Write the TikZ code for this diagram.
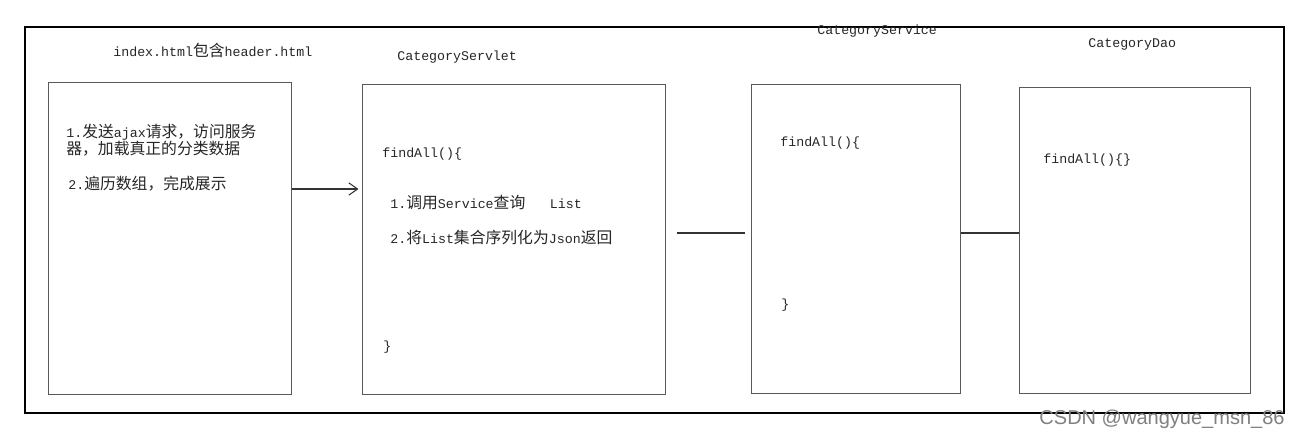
\documentclass[tikz,border=0pt]{standalone}
\usepackage{fontspec}
\setmainfont{Liberation Mono}[Scale=0.84]
\newfontfamily\cjk{Noto Sans CJK SC}
\newfontfamily\wmfont{Liberation Sans}
\usetikzlibrary{arrows.meta}

\tikzset{
	codebox/.style={draw=black!65, line width=0.7pt, anchor=north west, inner sep=0pt},
	txt/.style={anchor=west, inner sep=0pt, font=\fontsize{9}{10}\selectfont, text=black!85},
	link/.style={line width=0.6pt, draw=black!80},
}

\begin{document}
\begin{tikzpicture}[x=0.02cm, y=-0.02cm, >={Straight Barb[length=5pt,width=7pt]}]
\useasboundingbox (0,0) rectangle (1300,440);

% Frame
\draw[line width=0.6pt] (25,27) rectangle (1284,413);

% Boxes
\foreach \name/\x/\y/\w/\h in {page/48/82/243/312, servlet/362/84/303/310, service/751/84/209/309, dao/1019/87/231/306}
{
	\node[codebox, minimum width=\w*0.02cm, minimum height=\h*0.02cm]
		(\name) at (\x,\y) {};
}

% Titles
\node[txt] (page-title) at (113,50) {index.html{\cjk 包含}header.html};
\node[txt] (servlet-title) at (397,57) {CategoryServlet};
\node[txt] (service-title) at (817,31) {CategoryService};
\node[txt] (dao-title) at (1088,44) {CategoryDao};

% Page text
\node[txt] (page-1a) at (66,132) {1.{\cjk 发送}ajax{\cjk 请求，访问服务}};
\node[txt] (page-1b) at (66,149) {{\cjk 器，加载真正的分类数据}};
\node[txt] (page-2) at (68,184) {2.{\cjk 遍历数组，完成展示}};

% Servlet text
\node[txt] (servlet-open) at (382,154) {findAll()\{};
\node[txt] (servlet-1) at (390,203) {1.{\cjk 调用}Service{\cjk 查询}\hspace{14pt}List};
\node[txt] (servlet-2) at (390,237) {2.{\cjk 将}List{\cjk 集合序列化为}Json{\cjk 返回}};
\node[txt] (servlet-close) at (383,347) {\}};

% Service text
\node[txt] (service-open) at (780,143) {findAll()\{};
\node[txt] (service-close) at (781,305) {\}};

% Dao text
\node[txt] (dao-fn) at (1043,160) {findAll()\{\}};

% Connect boxes
\coordinate (call-y) at (0,189);
\coordinate (link-y) at (0,233);
\draw[->, link, shorten >=2pt] (page.east |- call-y) -- (servlet.west |- call-y);
\draw[link, shorten <=6pt, shorten >=3.5pt] (servlet.east |- link-y) -- (service.west |- link-y);
\draw[link] (service.east |- link-y) -- (dao.west |- link-y);

% Watermark
\node[anchor=east, inner sep=0pt, font=\wmfont\fontsize{11.4}{12}\selectfont, text=black!50]
	(mark) at (1285,419) {CSDN @wangyue\_msn\_86};
\end{tikzpicture}
\end{document}
